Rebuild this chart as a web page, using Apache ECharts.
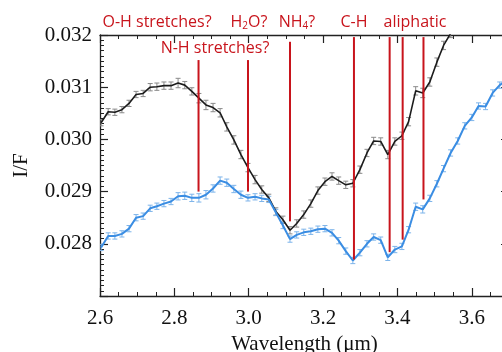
<!DOCTYPE html>
<html>
<head>
<meta charset="utf-8">
<script src="https://cdn.jsdelivr.net/npm/echarts@6/dist/echarts.min.js"></script>
<style>
  html, body { margin: 0; padding: 0; background: #fff; }
  #container { width: 502px; height: 352px; }
</style>
</head>
<body>
<div id="container"></div>
<script>
// wavelength grid (um)
const wavelength = [
  2.603, 2.622, 2.640, 2.659, 2.678, 2.697, 2.716, 2.735, 2.753, 2.772,
  2.791, 2.810, 2.828, 2.847, 2.866, 2.885, 2.904, 2.923, 2.941, 2.960,
  2.979, 2.998, 3.017, 3.035, 3.054, 3.073, 3.092, 3.111, 3.129, 3.148,
  3.167, 3.186, 3.205, 3.224, 3.242, 3.261, 3.280, 3.299, 3.318, 3.336,
  3.355, 3.374, 3.393, 3.412, 3.430, 3.449, 3.468, 3.487, 3.506, 3.524,
  3.543, 3.562, 3.581, 3.600, 3.618, 3.637, 3.656, 3.675, 3.694
];
// black spectrum I/F
const blackIF = [
  0.03032, 0.03053, 0.03052, 0.03057, 0.03069, 0.03086, 0.03088, 0.03100, 0.03101, 0.03103,
  0.03103, 0.03108, 0.03104, 0.03092, 0.03079, 0.03066, 0.03061, 0.03051, 0.03024, 0.02999,
  0.02971, 0.02946, 0.02923, 0.02904, 0.02888, 0.02862, 0.02846, 0.02826, 0.02839, 0.02856,
  0.02877, 0.02902, 0.02919, 0.02929, 0.02921, 0.02913, 0.02916, 0.02942, 0.02974, 0.02997,
  0.02996, 0.02971, 0.02996, 0.03007, 0.03034, 0.03093, 0.03089, 0.03110, 0.03148, 0.03180,
  0.03203, 0.03225
];
const blackErr = [
  0.00006, 0.00006, 0.00006, 0.00006, 0.00006, 0.00006, 0.00006, 0.00007, 0.00007, 0.00007,
  0.00007, 0.00009, 0.00007, 0.00007, 0.00009, 0.00009, 0.00008, 0.00008, 0.00008, 0.00008,
  0.00008, 0.00008, 0.00008, 0.00007, 0.00007, 0.00007, 0.00007, 0.00007, 0.00007, 0.00007,
  0.00007, 0.00007, 0.00007, 0.00007, 0.00007, 0.00007, 0.00007, 0.00007, 0.00007, 0.00007,
  0.00007, 0.00008, 0.00007, 0.00007, 0.00008, 0.00008, 0.00009, 0.00008, 0.00008, 0.00008,
  0.00008, 0.00008
];
// blue spectrum I/F
const blueIF = [
  0.02793, 0.02815, 0.02815, 0.02819, 0.02829, 0.02850, 0.02853, 0.02868, 0.02872, 0.02877,
  0.02881, 0.02891, 0.02892, 0.02888, 0.02888, 0.02894, 0.02906, 0.02921, 0.02917, 0.02905,
  0.02894, 0.02888, 0.02890, 0.02887, 0.02885, 0.02860, 0.02835, 0.02809, 0.02817, 0.02822,
  0.02824, 0.02828, 0.02829, 0.02821, 0.02806, 0.02786, 0.02768, 0.02783, 0.02800, 0.02813,
  0.02807, 0.02774, 0.02789, 0.02795, 0.02827, 0.02871, 0.02866, 0.02887, 0.02915, 0.02944,
  0.02974, 0.02997, 0.03026, 0.03042, 0.03064, 0.03063, 0.03089, 0.03104, 0.03114
];
const blueErr = [
  0.00006, 0.00006, 0.00006, 0.00006, 0.00006, 0.00006, 0.00006, 0.00006, 0.00006, 0.00006,
  0.00006, 0.00007, 0.00007, 0.00007, 0.00008, 0.00008, 0.00007, 0.00007, 0.00007, 0.00007,
  0.00007, 0.00006, 0.00006, 0.00006, 0.00006, 0.00006, 0.00006, 0.00006, 0.00006, 0.00006,
  0.00006, 0.00006, 0.00006, 0.00006, 0.00006, 0.00006, 0.00006, 0.00006, 0.00006, 0.00006,
  0.00006, 0.00006, 0.00006, 0.00006, 0.00006, 0.00007, 0.00007, 0.00006, 0.00006, 0.00006,
  0.00006, 0.00006, 0.00006, 0.00006, 0.00006, 0.00006, 0.00006, 0.00006, 0.00006
];
// absorption feature markers
const featureX = [2.865, 2.998, 3.111, 3.283, 3.379, 3.414, 3.470];
const featureTop = [0.03152, 0.03152, 0.03187, 0.03196, 0.03196, 0.03196, 0.03196];
const featureBottom = [0.02900, 0.02900, 0.02843, 0.02770, 0.02784, 0.02808, 0.02885];

const axisFont = 'Liberation Serif';
const red = '#c8141c';
const labelFont = '16px "Open Sans"';
const subFont = '10px "Open Sans"';

let chart = echarts.init(document.getElementById('container'));

function errorBarItem(color) {
  return function (params, api) {
    const x = api.value(0);
    const lo = api.coord([x, api.value(1)]);
    const hi = api.coord([x, api.value(2)]);
    const w = 2.5;
    const style = { stroke: color, lineWidth: 1 };
    return {
      type: 'group',
      children: [
        { type: 'line', shape: { x1: lo[0], y1: lo[1], x2: hi[0], y2: hi[1] }, style: style },
        { type: 'line', shape: { x1: lo[0] - w, y1: lo[1], x2: lo[0] + w, y2: lo[1] }, style: style },
        { type: 'line', shape: { x1: hi[0] - w, y1: hi[1], x2: hi[0] + w, y2: hi[1] }, style: style },
      ],
    };
  };
}

const blackLine = blackIF.map((v, i) => [wavelength[i], v]);
const blueLine = blueIF.map((v, i) => [wavelength[i], v]);
const blackBars = blackIF.map((v, i) => [wavelength[i], v - blackErr[i], v + blackErr[i]]);
const blueBars = blueIF.map((v, i) => [wavelength[i], v - blueErr[i], v + blueErr[i]]);
const features = featureX.map((x, i) => [x, featureBottom[i], featureTop[i]]);

const xCommon = {
  type: 'value',
  min: 2.6,
  max: 3.7,
  interval: 0.2,
  splitLine: { show: false },
  axisLine: { onZero: false, lineStyle: { color: '#222', width: 1.3 } },
  axisTick: { inside: true, length: 8, lineStyle: { color: '#222', width: 1.2 } },
  minorTick: { show: true, splitNumber: 4, length: 4, lineStyle: { color: '#222', width: 1 } },
};
const yCommon = {
  type: 'value',
  min: 0.027,
  max: 0.032,
  interval: 0.001,
  splitLine: { show: false },
  axisLine: { lineStyle: { color: '#222', width: 1.3 } },
  axisTick: { inside: true, length: 8, lineStyle: { color: '#222', width: 1.2 } },
  minorTick: { show: true, splitNumber: 10, length: 4, lineStyle: { color: '#222', width: 1 } },
};

let option = {
  animation: false,
  backgroundColor: '#fff',
  // plot runs past the right edge of the picture (cropped figure)
  grid: { left: 100, top: 35, width: 409, height: 261, outerBoundsMode: 'none' },
  xAxis: [
    Object.assign({}, xCommon, {
      position: 'bottom',
      name: 'Wavelength (\u03bcm)',
      nameLocation: 'middle',
      nameGap: 33,
      nameTextStyle: { fontFamily: axisFont, fontSize: 21, color: '#111' },
      axisLabel: {
        fontFamily: axisFont, fontSize: 21, color: '#111', margin: 12,
        showMaxLabel: false,
        formatter: (v) => v.toFixed(1),
      },
    }),
    Object.assign({}, xCommon, {
      position: 'top',
      axisLabel: { show: false },
    }),
  ],
  yAxis: [
    Object.assign({}, yCommon, {
      position: 'left',
      name: 'I/F',
      nameLocation: 'middle',
      nameGap: 68,
      nameRotate: 90,
      nameTextStyle: { fontFamily: axisFont, fontSize: 21, color: '#111' },
      axisLabel: {
        fontFamily: axisFont, fontSize: 21, color: '#111', margin: 8,
        showMinLabel: false,
        formatter: (v) => v.toFixed(3),
      },
    }),
    Object.assign({}, yCommon, {
      position: 'right',
      axisLabel: { show: false },
      minorTick: { show: false },
    }),
  ],
  series: [
    {
      type: 'custom',
      renderItem: errorBarItem('#8a8a8a'),
      data: blackBars,
      encode: { x: 0, y: [1, 2] },
      clip: true,
      z: 2,
    },
    {
      type: 'custom',
      renderItem: errorBarItem('#7db4ea'),
      data: blueBars,
      encode: { x: 0, y: [1, 2] },
      clip: true,
      z: 2,
    },
    {
      type: 'line',
      data: blackLine,
      symbol: 'none',
      lineStyle: { color: '#1c1c1c', width: 1.6 },
      clip: true,
      z: 3,
    },
    {
      type: 'line',
      data: blueLine,
      symbol: 'none',
      lineStyle: { color: '#3a8de3', width: 2 },
      clip: true,
      z: 3,
    },
    {
      type: 'custom',
      data: features,
      encode: { x: 0, y: [1, 2] },
      renderItem: function (params, api) {
        const lo = api.coord([api.value(0), api.value(1)]);
        const hi = api.coord([api.value(0), api.value(2)]);
        return {
          type: 'line',
          shape: { x1: lo[0], y1: lo[1], x2: hi[0], y2: hi[1] },
          style: { stroke: red, lineWidth: 2 },
        };
      },
      z: 4,
    },
  ],
  graphic: [
    { type: 'text', x: 157, y: 22, style: { text: 'O-H stretches?', font: labelFont, fill: red, align: 'center', verticalAlign: 'middle' } },
    { type: 'text', x: 249, y: 22, style: { text: 'H{s|2}O?', font: labelFont, fill: red, align: 'center', verticalAlign: 'middle', rich: { s: { font: subFont, fill: red, padding: [8, 0, 0, 0] } } } },
    { type: 'text', x: 297, y: 22, style: { text: 'NH{s|4}?', font: labelFont, fill: red, align: 'center', verticalAlign: 'middle', rich: { s: { font: subFont, fill: red, padding: [8, 0, 0, 0] } } } },
    { type: 'text', x: 354, y: 22, style: { text: 'C-H', font: labelFont, fill: red, align: 'center', verticalAlign: 'middle' } },
    { type: 'text', x: 415, y: 22, style: { text: 'aliphatic', font: labelFont, fill: red, align: 'center', verticalAlign: 'middle' } },
    { type: 'text', x: 215, y: 48, style: { text: 'N-H stretches?', font: labelFont, fill: red, align: 'center', verticalAlign: 'middle' } },
  ],
};

if (option && typeof option === 'object') {
  chart.setOption(option);
}
</script>
</body>
</html>
